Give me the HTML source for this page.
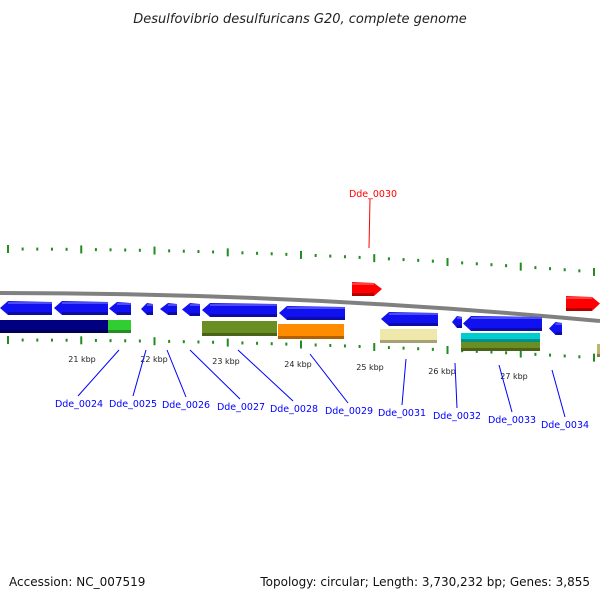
<!DOCTYPE html>
<html><head><meta charset="utf-8"><style>
html,body{margin:0;padding:0;background:#fff}
svg{display:block;font-family:"DejaVu Sans","Liberation Sans",sans-serif}
</style></head><body>
<svg id="map" width="600" height="600" viewBox="0 0 600 600">
<text x="300" y="23" text-anchor="middle" font-size="13" font-style="italic" fill="#222">Desulfovibrio desulfuricans G20, complete genome</text>
<g id="ticks"></g>
<path d="M0,293 Q300,293 600,321" stroke="#808080" stroke-width="4" fill="none"/>
<g id="genes"></g>
<g id="labels"></g>
<text x="9" y="586" font-size="12" fill="#111">Accession: NC_007519</text>
<text x="590" y="586" text-anchor="end" font-size="12" fill="#111">Topology: circular; Length: 3,730,232 bp; Genes: 3,855</text>
</svg>
<script>
const NS="http://www.w3.org/2000/svg";
function mk(t,a,p){const e=document.createElementNS(NS,t);for(const k in a)e.setAttribute(k,a[k]);p.appendChild(e);return e;}
const tg=document.getElementById('ticks');
for(let i=0;i<42;i++){const x=8+i*14.65;const maj=i%5==0;
 const yt=249+6.5e-5*x*x; const l=maj?8:3;
 const a=mk('line',{x1:x,x2:x,y1:yt-l/2,y2:yt+l/2,stroke:'#228b22','stroke-width':2},tg);
 
 const yb=340+5e-5*x*x;
 const b=mk('line',{x1:x,x2:x,y1:yb-l/2,y2:yb+l/2,stroke:'#228b22','stroke-width':2},tg);
 }
const kbp=[[82,359,'21 kbp'],[154,359,'22 kbp'],[226,361,'23 kbp'],[298,364,'24 kbp'],[370,367,'25 kbp'],[442,371,'26 kbp'],[514,376,'27 kbp']];
kbp.forEach(k=>{const t=mk('text',{x:k[0],y:k[1]+3,'text-anchor':'middle','font-size':8,fill:'#222'},tg);t.textContent=k[2];
 });
const gg=document.getElementById('genes');
const arrows=[[0,52,301,14,-1,'#1010f0'],[54,108,301,14,-1,'#1010f0'],[109,131,302,13,-1,'#1010f0'],[141,153,303,12,-1,'#1010f0'],[160,177,303,12,-1,'#1010f0'],[182,200,303,13,-1,'#1010f0'],[202,277,303,14,-1,'#1010f0'],[279,345,306,14,-1,'#1010f0'],[381,438,312,14,-1,'#1010f0'],[452,462,316,12,-1,'#1010f0'],[463,542,316,15,-1,'#1010f0'],[549,562,322,13,-1,'#1010f0'],[352,382,282,14,1,'#f00'],[566,600,296,15,1,'#f00']];
arrows.forEach(a=>{const [x1,x2,y,h,d,c]=a;const hd=Math.min(8,(x2-x1)/2);let p;
 if(d<0)p=`${x1},${y+h/2} ${x1+hd},${y} ${x2},${y+1} ${x2},${y+h} ${x1+hd},${y+h}`;
 else p=`${x1},${y} ${x2-hd},${y+1} ${x2},${y+h/2} ${x2-hd},${y+h} ${x1},${y+h}`;
 const e=mk('polygon',{points:p,fill:c},gg);
 const s=mk('rect',{x:x1+(d<0?hd:0),y:y+h-3,width:x2-x1-hd,height:3,fill:'#000',opacity:0.3},gg);
 const hl=mk('rect',{x:x1+(d<0?hd:0),y:y+1,width:x2-x1-hd,height:2,fill:'#fff',opacity:0.25},gg);});
const boxes=[[0,54,320,13,'#000080'],[54,108,320,13,'#000080'],[108,131,320,13,'#32cd32'],[202,277,321,15,'#6b8e23'],[278,344,324,15,'#ff8c00'],[380,437,329,14,'#eee8aa'],[461,540,333,9,'#00cdcd'],[461,540,342,9,'#6b8e23'],[597,600,344,13,'#bdb76b']];
boxes.forEach(b=>{const e=mk('rect',{x:b[0],y:b[2],width:b[1]-b[0],height:b[3],fill:b[4]},gg);
 const s=mk('rect',{x:b[0],y:b[2]+b[3]-3,width:b[1]-b[0],height:3,fill:'#000',opacity:0.3},gg);});
const lg=document.getElementById('labels');
const labs=[['Dde_0024',119,350,78,396,79,407],['Dde_0025',146,350,133,396,133,407],['Dde_0026',167,350,186,397,186,408],['Dde_0027',190,350,240,399,241,410],['Dde_0028',238,350,293,401,294,412],['Dde_0029',310,354,348,403,349,414],['Dde_0031',406,359,402,405,402,416],['Dde_0032',455,363,457,408,457,419],['Dde_0033',499,365,512,412,512,423],['Dde_0034',552,370,565,417,565,428]];
labs.forEach(l=>{const e=mk('line',{x1:l[1],y1:l[2],x2:l[3],y2:l[4],stroke:'#0000ff','stroke-width':1},lg);
 const t=mk('text',{x:l[5],y:l[6],'text-anchor':'middle','font-size':9.5,fill:'#0000ff'},lg);t.textContent=l[0];});
const r=mk('line',{x1:370,y1:199,x2:369,y2:248,stroke:'#f00','stroke-width':1},lg);
const rt=mk('text',{x:373,y:197,'text-anchor':'middle','font-size':9.5,fill:'#f00'},lg);rt.textContent='Dde_0030';
</script>
</body></html>
